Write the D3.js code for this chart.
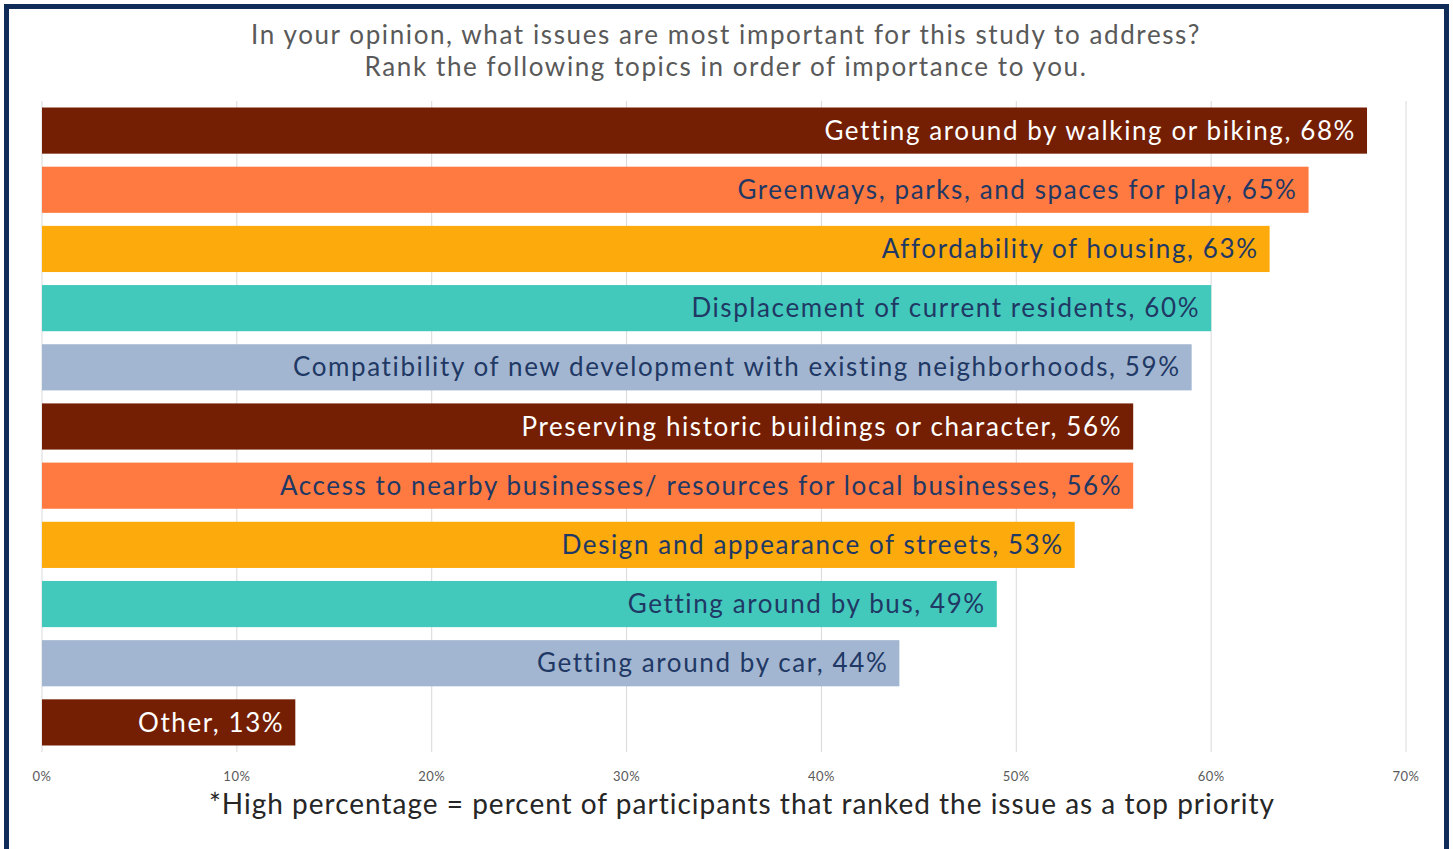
<!DOCTYPE html>
<html>
<head>
<meta charset="utf-8">
<script src="https://cdn.jsdelivr.net/npm/d3@7"></script>
<style>
  body { margin: 0; background: #fff; }
  svg { display: block; font-family: "Lato", "Open Sans", sans-serif; }
</style>
</head>
<body>
<svg id="chart"></svg>
<script>
const topics = [
    "Getting around by walking or biking",
    "Greenways, parks, and spaces for play",
    "Affordability of housing",
    "Displacement of current residents",
    "Compatibility of new development with existing neighborhoods",
    "Preserving historic buildings or character",
    "Access to nearby businesses/ resources for local businesses",
    "Design and appearance of streets",
    "Getting around by bus",
    "Getting around by car",
    "Other"
];
const percents = [68, 65, 63, 60, 59, 56, 56, 53, 49, 44, 13];
const tickValues = [0, 10, 20, 30, 40, 50, 60, 70];

const palette = ["#741e03", "#ff7a40", "#fcaa0c", "#43c9bc", "#a2b6d1"];
const textColors = ["#ffffff", "#1f3864", "#1f3864", "#1f3864", "#1f3864"];

const width = 1453, height = 849;
const svg = d3.select("#chart").attr("width", width).attr("height", height);

// frame
svg.append("rect")
    .attr("x", 6.5).attr("y", 6.5)
    .attr("width", 1440).attr("height", 860)
    .attr("fill", "none")
    .attr("stroke", "#0e2c57")
    .attr("stroke-width", 5);

const x = d3.scaleLinear().domain([0, 70]).range([42, 1406]);
const y = d3.scaleBand().domain(topics).range([101, 752])
    .paddingInner(0.22).paddingOuter(0.11);

// gridlines
svg.append("g")
    .selectAll("line")
    .data(tickValues)
    .enter().append("line")
    .attr("x1", d => x(d)).attr("x2", d => x(d))
    .attr("y1", 101).attr("y2", 752)
    .attr("stroke", "#d9d9d9")
    .attr("stroke-width", 1);

// tick labels
svg.append("g")
    .selectAll("text")
    .data(tickValues)
    .enter().append("text")
    .attr("x", d => x(d))
    .attr("y", 781)
    .attr("text-anchor", "middle")
    .style("font-size", "13px")
    .style("letter-spacing", "0.5px")
    .style("fill", "#595959")
    .text(d => d + "%");

// bars
svg.append("g")
    .selectAll("rect")
    .data(topics)
    .enter().append("rect")
    .attr("x", x(0))
    .attr("y", d => y(d))
    .attr("width", (d, i) => x(percents[i]) - x(0))
    .attr("height", y.bandwidth())
    .attr("fill", (d, i) => palette[i % palette.length]);

// labels inside bars
svg.append("g")
    .selectAll("text")
    .data(topics)
    .enter().append("text")
    .attr("x", (d, i) => x(percents[i]) - 11)
    .attr("y", d => y(d) + y.bandwidth() / 2)
    .attr("dy", "0.35em")
    .attr("text-anchor", "end")
    .style("font-size", "26px")
    .style("letter-spacing", "1.6px")
    .style("fill", (d, i) => textColors[i % textColors.length])
    .text((d, i) => d + ", " + percents[i] + "%");

// title
const title = svg.append("text")
    .attr("x", 726)
    .attr("text-anchor", "middle")
    .style("font-size", "26px")
    .style("letter-spacing", "1.6px")
    .style("fill", "#595959");
title.append("tspan").attr("x", 726).attr("y", 44)
    .text("In your opinion, what issues are most important for this study to address?");
title.append("tspan").attr("x", 726).attr("y", 76)
    .text("Rank the following topics in order of importance to you.");

// footnote
svg.append("text")
    .attr("x", 742)
    .attr("y", 814)
    .attr("text-anchor", "middle")
    .style("font-size", "28px")
    .style("letter-spacing", "1px")
    .style("fill", "#262626")
    .text("*High percentage = percent of participants that ranked the issue as a top priority");
</script>
</body>
</html>
